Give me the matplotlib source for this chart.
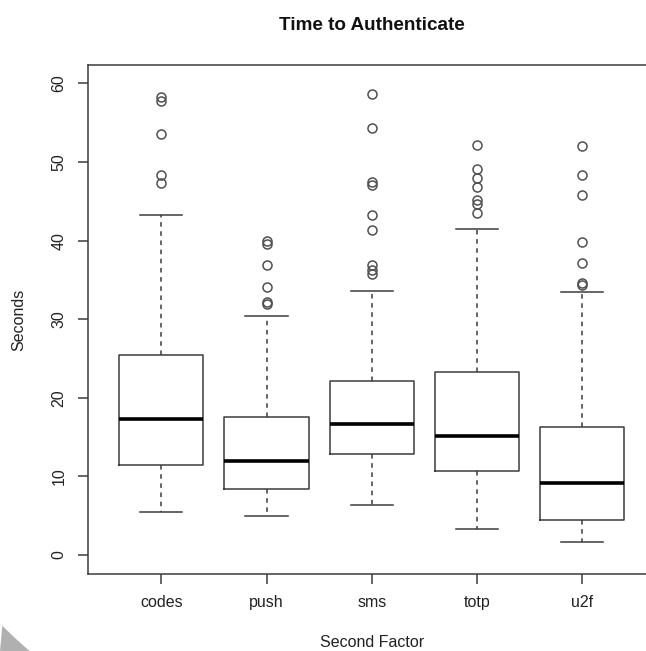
import matplotlib
matplotlib.use('Agg')
import numpy as np
import matplotlib.pyplot as plt
from matplotlib.patches import Polygon

plt.rcParams['font.family'] = ['Liberation Sans', 'DejaVu Sans']

# values (seconds)
factors = ['codes', 'push', 'sms', 'totp', 'u2f']
q1 = [11.4, 8.4, 12.9, 10.7, 4.5]
med = [17.3, 11.9, 16.6, 15.1, 9.1]
q3 = [25.4, 17.6, 22.1, 23.3, 16.3]
whislo = [5.5, 4.9, 6.4, 3.3, 1.7]
whishi = [43.2, 30.4, 33.6, 41.5, 33.4]
outliers = [
    [58.3, 57.7, 53.6, 48.4, 47.3],
    [39.9, 39.6, 36.9, 34.1, 32.2, 31.9],
    [58.7, 54.3, 47.5, 47.1, 43.2, 41.3, 36.9, 36.3, 35.8],
    [52.1, 49.1, 47.9, 46.8, 45.2, 44.7, 43.5],
    [52.0, 48.3, 45.8, 39.8, 37.2, 34.6, 34.3],
]

stats = []
for i in range(len(factors)):
    stats.append({'label': factors[i], 'q1': q1[i], 'med': med[i], 'q3': q3[i],
                  'whislo': whislo[i], 'whishi': whishi[i], 'fliers': outliers[i]})

W, H = 646, 651
fig = plt.figure(figsize=(W / 100, H / 100), dpi=100)
ax = fig.add_axes([87.6 / W, 1 - 574.3 / H, (656 - 87.6) / W, (574.3 - 65) / H])

line_c = '#3c3c3c'
ax.bxp(stats, widths=0.8, showfliers=True,
       boxprops=dict(color=line_c, linewidth=1.1),
       medianprops=dict(color='black', linewidth=2.6, solid_capstyle='butt'),
       whiskerprops=dict(color=line_c, linewidth=1.1, linestyle=(0, (3, 3))),
       capprops=dict(color=line_c, linewidth=1.1),
       capwidths=0.4,
       flierprops=dict(marker='o', markersize=6.5, markerfacecolor='none',
                       markeredgecolor='#505050', markeredgewidth=1.1))

ax.set_xlim(0.3, 5.7)
ax.set_ylim(-2.46, 62.34)
ax.set_yticks([0, 10, 20, 30, 40, 50, 60])
for s in ax.spines.values():
    s.set_color(line_c)
    s.set_linewidth(1.1)

ax.tick_params(axis='both', direction='out', length=7.2, width=1.1, color=line_c,
               labelsize=11.5, labelcolor='#222222', pad=8)
ax.tick_params(axis='y', labelrotation=90)
for lab in ax.get_yticklabels():
    lab.set_va('center')

fig.text(371.8 / W, 1 - 25 / H, 'Time to Authenticate', ha='center', va='center',
         fontsize=13.6, fontweight='bold', color='#111111')
fig.text(371.8 / W, 1 - 642.3 / H, 'Second Factor', ha='center', va='center',
         fontsize=11.5, color='#222222')
fig.text(19 / W, 1 - 320 / H, 'Seconds', ha='center', va='center', rotation=90,
         fontsize=11.5, color='#222222')

# grey curved corner at the bottom left of the scan
t = np.linspace(np.arctan2(328, -330), np.arctan2(351, -295), 30)
arc = [(330 + 462 * np.cos(a), 300 + 462 * np.sin(a)) for a in t]
pts = [(0, H)] + arc + [(0, H)]
corner = Polygon([(x / W, 1 - y / H) for x, y in pts], closed=True,
                 transform=fig.transFigure, facecolor='#b0b0b0', edgecolor='none')
fig.patches.append(corner)

fig.savefig('out.png', dpi=100)
